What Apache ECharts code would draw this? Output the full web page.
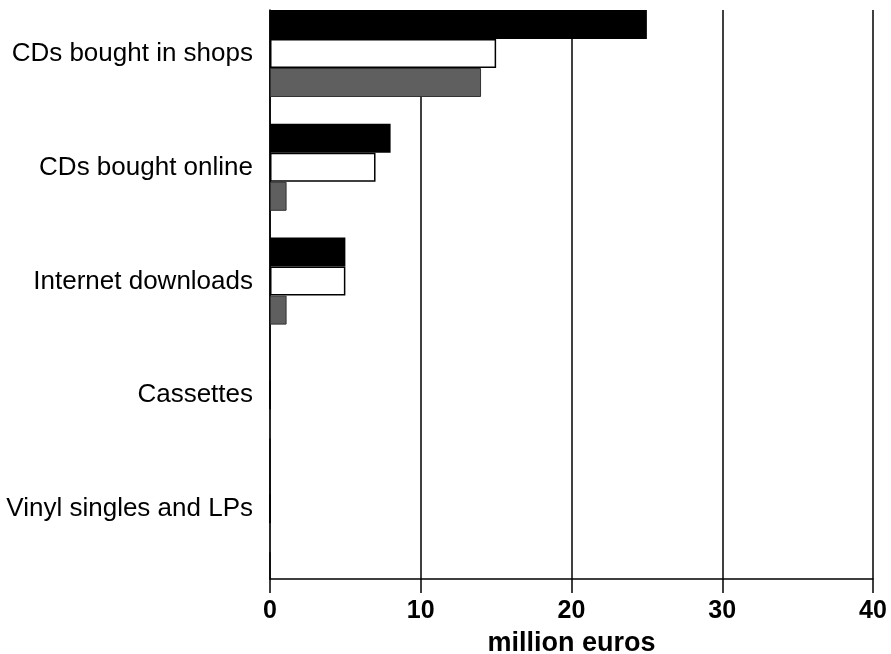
<!DOCTYPE html>
<html>
<head>
<meta charset="utf-8">
<script src="https://cdn.jsdelivr.net/npm/echarts@6/dist/echarts.min.js"></script>
<style>
  html, body { margin: 0; padding: 0; background: #fff; }
  #chart { width: 891px; height: 654px; }
</style>
</head>
<body>
<div id="chart"></div>
<script>
const categories = [
  "CDs bought in shops",
  "CDs bought online",
  "Internet downloads",
  "Cassettes",
  "Vinyl singles and LPs",
];
const seriesBlack = [25, 8, 5, 0, 0];
const seriesWhite = [15, 7, 5, 0, 0];
const seriesGrey = [14, 1.1, 1.1, 0, 0];
// empty slot under each group, bars sit at the top of their band
const spacer = [0, 0, 0, 0, 0];
const xTicks = [0, 10, 20, 30, 40];

const chart = echarts.init(document.getElementById("chart"));

const option = {
  animation: false,
  grid: {
    left: 270,
    right: 18,
    top: 10,
    bottom: 75,
    outerBoundsMode: "none",
  },
  xAxis: {
    type: "value",
    min: xTicks[0],
    max: xTicks[xTicks.length - 1],
    interval: 10,
    name: "million euros",
    nameLocation: "middle",
    nameGap: 51,
    nameTextStyle: {
      fontFamily: "Liberation Sans",
      fontWeight: "bold",
      fontSize: 27,
      color: "#000",
    },
    axisLine: { show: true, lineStyle: { color: "#000", width: 1.5 } },
    axisTick: { show: true, length: 14, lineStyle: { color: "#000", width: 1.5 } },
    axisLabel: {
      margin: 20,
      fontFamily: "Liberation Sans",
      fontWeight: "bold",
      fontSize: 25,
      color: "#000",
    },
    splitLine: { show: true, lineStyle: { color: "#000", width: 1.5 } },
  },
  yAxis: {
    type: "category",
    inverse: true,
    data: categories,
    axisLine: { show: true, lineStyle: { color: "#000", width: 1.5 } },
    axisTick: { show: false },
    axisLabel: {
      margin: 17,
      verticalAlign: "bottom",
      lineHeight: 26,
      fontFamily: "Liberation Sans",
      fontSize: 26,
      color: "#000",
    },
  },
  series: [
    {
      type: "bar",
      data: seriesBlack,
      barWidth: 29,
      barGap: "0%",
      barCategoryGap: "0%",
      itemStyle: { color: "#000" },
    },
    {
      type: "bar",
      data: seriesWhite,
      barWidth: 29,
      barGap: "0%",
      itemStyle: { color: "#fff", borderColor: "#000", borderWidth: 1.5 },
    },
    {
      type: "bar",
      data: seriesGrey,
      barWidth: 29,
      barGap: "0%",
      itemStyle: { color: "#5f5f5f", borderColor: "#333", borderWidth: 1 },
    },
    {
      type: "bar",
      data: spacer,
      barWidth: 26.8,
      barGap: "0%",
      itemStyle: { color: "transparent" },
    },
  ],
};

chart.setOption(option);
</script>
</body>
</html>
